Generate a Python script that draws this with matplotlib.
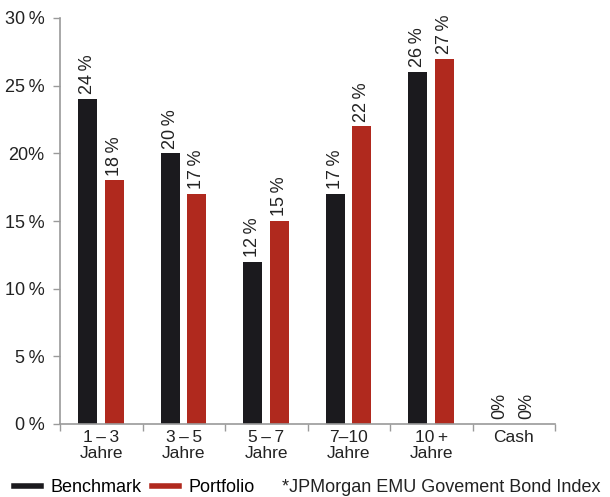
import matplotlib.pyplot as plt
import numpy as np
from matplotlib.lines import Line2D

plt.rcParams['font.family'] = ['Liberation Sans', 'DejaVu Sans']

categories = ['1\u2009\u2013\u20093\nJahre', '3\u2009\u2013\u20095\nJahre', '5\u2009\u2013\u20097\nJahre',
              '7\u201310\nJahre', '10\u2009+\nJahre', 'Cash']
benchmark = [24, 20, 12, 17, 26, 0]
portfolio = [18, 17, 15, 22, 27, 0]
ytick_vals = [0, 5, 10, 15, 20, 25, 30]
ytick_labels = ['0\u2009%', '5\u2009%', '10\u2009%', '15\u2009%', '20%', '25\u2009%', '30\u2009%']

black = '#1b1a1e'
red = '#b0291e'
grey = '#9a9a9a'
txt = '#222222'
fs = 13

fig = plt.figure(figsize=(6.1, 4.97), dpi=100)
ax = fig.add_axes([60 / 610, 1 - 424 / 497, 495 / 610, 406 / 497])

x = np.arange(len(categories))
w = 0.23
ax.bar(x - 0.165, benchmark, w, color=black)
ax.bar(x + 0.155, portfolio, w, color=red)


def lab(v):
    return f'{v}%' if v == 0 else f'{v}\u2009%'


for xi, b, p in zip(x, benchmark, portfolio):
    ax.text(xi - 0.165, b + 0.35, lab(b), rotation=90, ha='center', va='bottom',
            fontsize=fs, color=txt)
    ax.text(xi + 0.155, p + 0.35, lab(p), rotation=90, ha='center', va='bottom',
            fontsize=fs, color=txt)

ax.set_xlim(-0.5, len(categories) - 0.5)
ax.set_ylim(0, 30)
ax.set_yticks(ytick_vals)
ax.set_yticklabels(ytick_labels, fontsize=fs, color=txt)
ax.set_xticks(x)
ax.set_xticklabels(categories, fontsize=12.5, color=txt, linespacing=1.15)
ax.tick_params(axis='x', length=0, pad=4)
ax.set_xticks(np.arange(len(categories) + 1) - 0.5, minor=True)
ax.tick_params(axis='x', which='minor', length=5, color=grey, width=1)
ax.tick_params(axis='y', length=5, color=grey, width=1, pad=6)

for s in ['top', 'right']:
    ax.spines[s].set_visible(False)
for s in ['left', 'bottom']:
    ax.spines[s].set_color(grey)
    ax.spines[s].set_linewidth(1.2)

handles = [Line2D([0], [0], color=black, lw=4),
           Line2D([0], [0], color=red, lw=4)]
fig.legend(handles, ['Benchmark', 'Portfolio'], loc='center left',
           bbox_to_anchor=(14 / 610, 9 / 497), borderaxespad=0, borderpad=0,
           ncol=2, frameon=False, fontsize=fs, handlelength=1.5, handletextpad=0.5,
           columnspacing=0.6)
fig.text(282 / 610, 9 / 497, '*JPMorgan EMU Govement Bond Index', fontsize=fs,
         color=txt, va='center', ha='left')

fig.savefig('out.png', dpi=100)
